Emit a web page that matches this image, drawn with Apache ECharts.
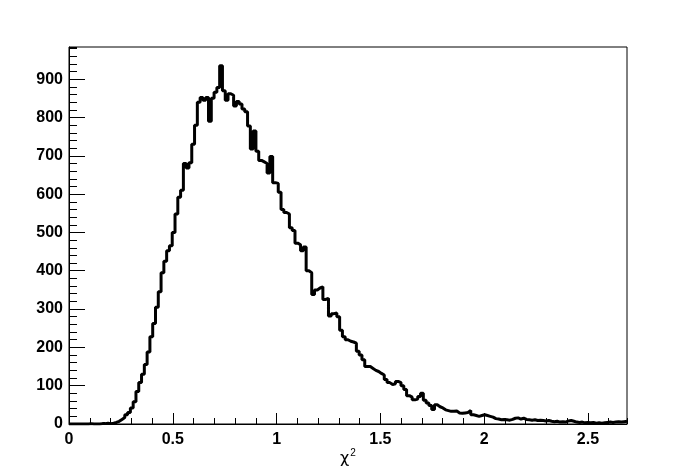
<!DOCTYPE html>
<html>
<head>
<meta charset="utf-8">
<script src="https://cdn.jsdelivr.net/npm/echarts@6/dist/echarts.min.js"></script>
<style>
html,body{margin:0;padding:0;background:#fff;}
#chart{width:696px;height:472px;}
</style>
</head>
<body>
<div id="chart"></div>
<script>
// Histogram definition
var xMin = 0;
var xMax = 2.688;
var nBins = 200;
var yMax = 984;
var xTitleSymbol = 'χ';
var xTitleSup = '2';
var xMajorTicks = [0, 0.5, 1, 1.5, 2, 2.5];
var yMajorTicks = [0, 100, 200, 300, 400, 500, 600, 700, 800, 900];

// bin contents, 10 bins per row
var counts = [
  0, 0, 0, 0, 0, 0, 0, 1, 0, 0,
  0, 1, 1, 2, 1, 2, 4, 7, 12, 17,
  24, 30, 42, 58, 85, 108, 130, 155, 188, 228,
  262, 305, 345, 395, 425, 452, 465, 500, 548, 592,
  610, 680, 668, 682, 730, 780, 840, 852, 845, 852,
  790, 850, 866, 878, 935, 870, 845, 862, 858, 830,
  842, 835, 822, 815, 778, 718, 765, 712, 688, 684,
  680, 655, 698, 630, 628, 605, 560, 552, 548, 512,
  505, 472, 468, 452, 462, 400, 395, 338, 350, 355,
  358, 325, 328, 282, 288, 290, 280, 245, 228, 220,
  216, 214, 211, 190, 180, 168, 150, 150, 145, 140,
  137, 132, 128, 116, 108, 103, 105, 111, 108, 100,
  90, 74, 70, 63, 65, 72, 80, 62, 55, 48,
  38, 50, 45, 42, 37, 35, 33, 33, 34, 29,
  28, 29, 30, 35, 24, 22, 20, 22, 24, 22,
  20, 18, 14, 13, 11, 12, 11, 10, 12, 15,
  16, 13, 15, 12, 11, 10, 11, 9, 10, 9,
  8, 9, 7, 6, 7, 5, 6, 5, 8, 9,
  7, 5, 4, 5, 3, 4, 3, 4, 2, 3,
  2, 3, 4, 5, 4, 5, 6, 5, 6, 7
];

var binWidth = (xMax - xMin) / nBins;
var stepData = [];
for (var i = 0; i < counts.length; i++) {
  stepData.push([xMin + i * binWidth, counts[i]]);
}
stepData.push([xMax, counts[counts.length - 1]]);

var labelFont = {
  color: '#000',
  fontFamily: 'Liberation Sans, Arial, sans-serif',
  fontWeight: 'bold',
  fontSize: 16
};

var chart = echarts.init(document.getElementById('chart'), null, {renderer: 'canvas'});
chart.setOption({
  animation: false,
  backgroundColor: '#fff',
  grid: {
    left: 69, right: 69, top: 47, bottom: 48,
    containLabel: false,
    outerBoundsMode: 'none',
    show: true, borderColor: '#000', borderWidth: 1,
    backgroundColor: 'transparent'
  },
  xAxis: [{
    type: 'value', min: xMin, max: xMax, interval: 0.5,
    name: '{c|' + xTitleSymbol + '}{s|' + xTitleSup + '}',
    nameLocation: 'middle', nameGap: 24,
    nameMoveOverlap: false,
    nameTextStyle: {
      color: '#000',
      rich: {
        c: {fontFamily: 'DejaVu Sans, sans-serif', fontSize: 16, color: '#000'},
        s: {fontFamily: 'Liberation Sans, Arial, sans-serif', fontSize: 10, color: '#000', padding: [0, 0, 12, 1]}
      }
    },
    axisLine: {show: true, lineStyle: {color: '#000', width: 1}},
    axisTick: {show: true, inside: true, length: 11, lineStyle: {color: '#000', width: 1}},
    axisLabel: Object.assign({margin: 8, showMaxLabel: false,
      formatter: function (v) { return xMajorTicks.indexOf(Math.round(v * 10) / 10) >= 0 ? String(Math.round(v * 10) / 10) : ''; }
    }, labelFont),
    splitLine: {show: false}
  }, {
    type: 'value', min: xMin, max: xMax, interval: 0.1, position: 'bottom',
    axisLine: {show: false},
    axisTick: {show: true, inside: true, length: 6, lineStyle: {color: '#000', width: 1}},
    axisLabel: {show: false},
    splitLine: {show: false}
  }],
  yAxis: [{
    type: 'value', min: 0, max: yMax, interval: 100,
    axisLine: {show: true, lineStyle: {color: '#000', width: 1}},
    axisTick: {show: true, inside: true, length: 16, lineStyle: {color: '#000', width: 1}},
    axisLabel: Object.assign({margin: 6, showMaxLabel: false,
      formatter: function (v) { return yMajorTicks.indexOf(Math.round(v)) >= 0 ? String(Math.round(v)) : ''; }
    }, labelFont),
    splitLine: {show: false}
  }, {
    type: 'value', min: 0, max: yMax, interval: 20, position: 'left',
    axisLine: {show: false},
    axisTick: {show: true, inside: true, length: 8, lineStyle: {color: '#000', width: 1}},
    axisLabel: {show: false},
    splitLine: {show: false}
  }],
  series: [{
    type: 'line',
    xAxisIndex: 0, yAxisIndex: 0,
    step: 'end',
    data: stepData,
    showSymbol: false,
    symbol: 'none',
    lineStyle: {color: '#000', width: 3},
    z: 1
  }]
});
</script>
</body>
</html>
